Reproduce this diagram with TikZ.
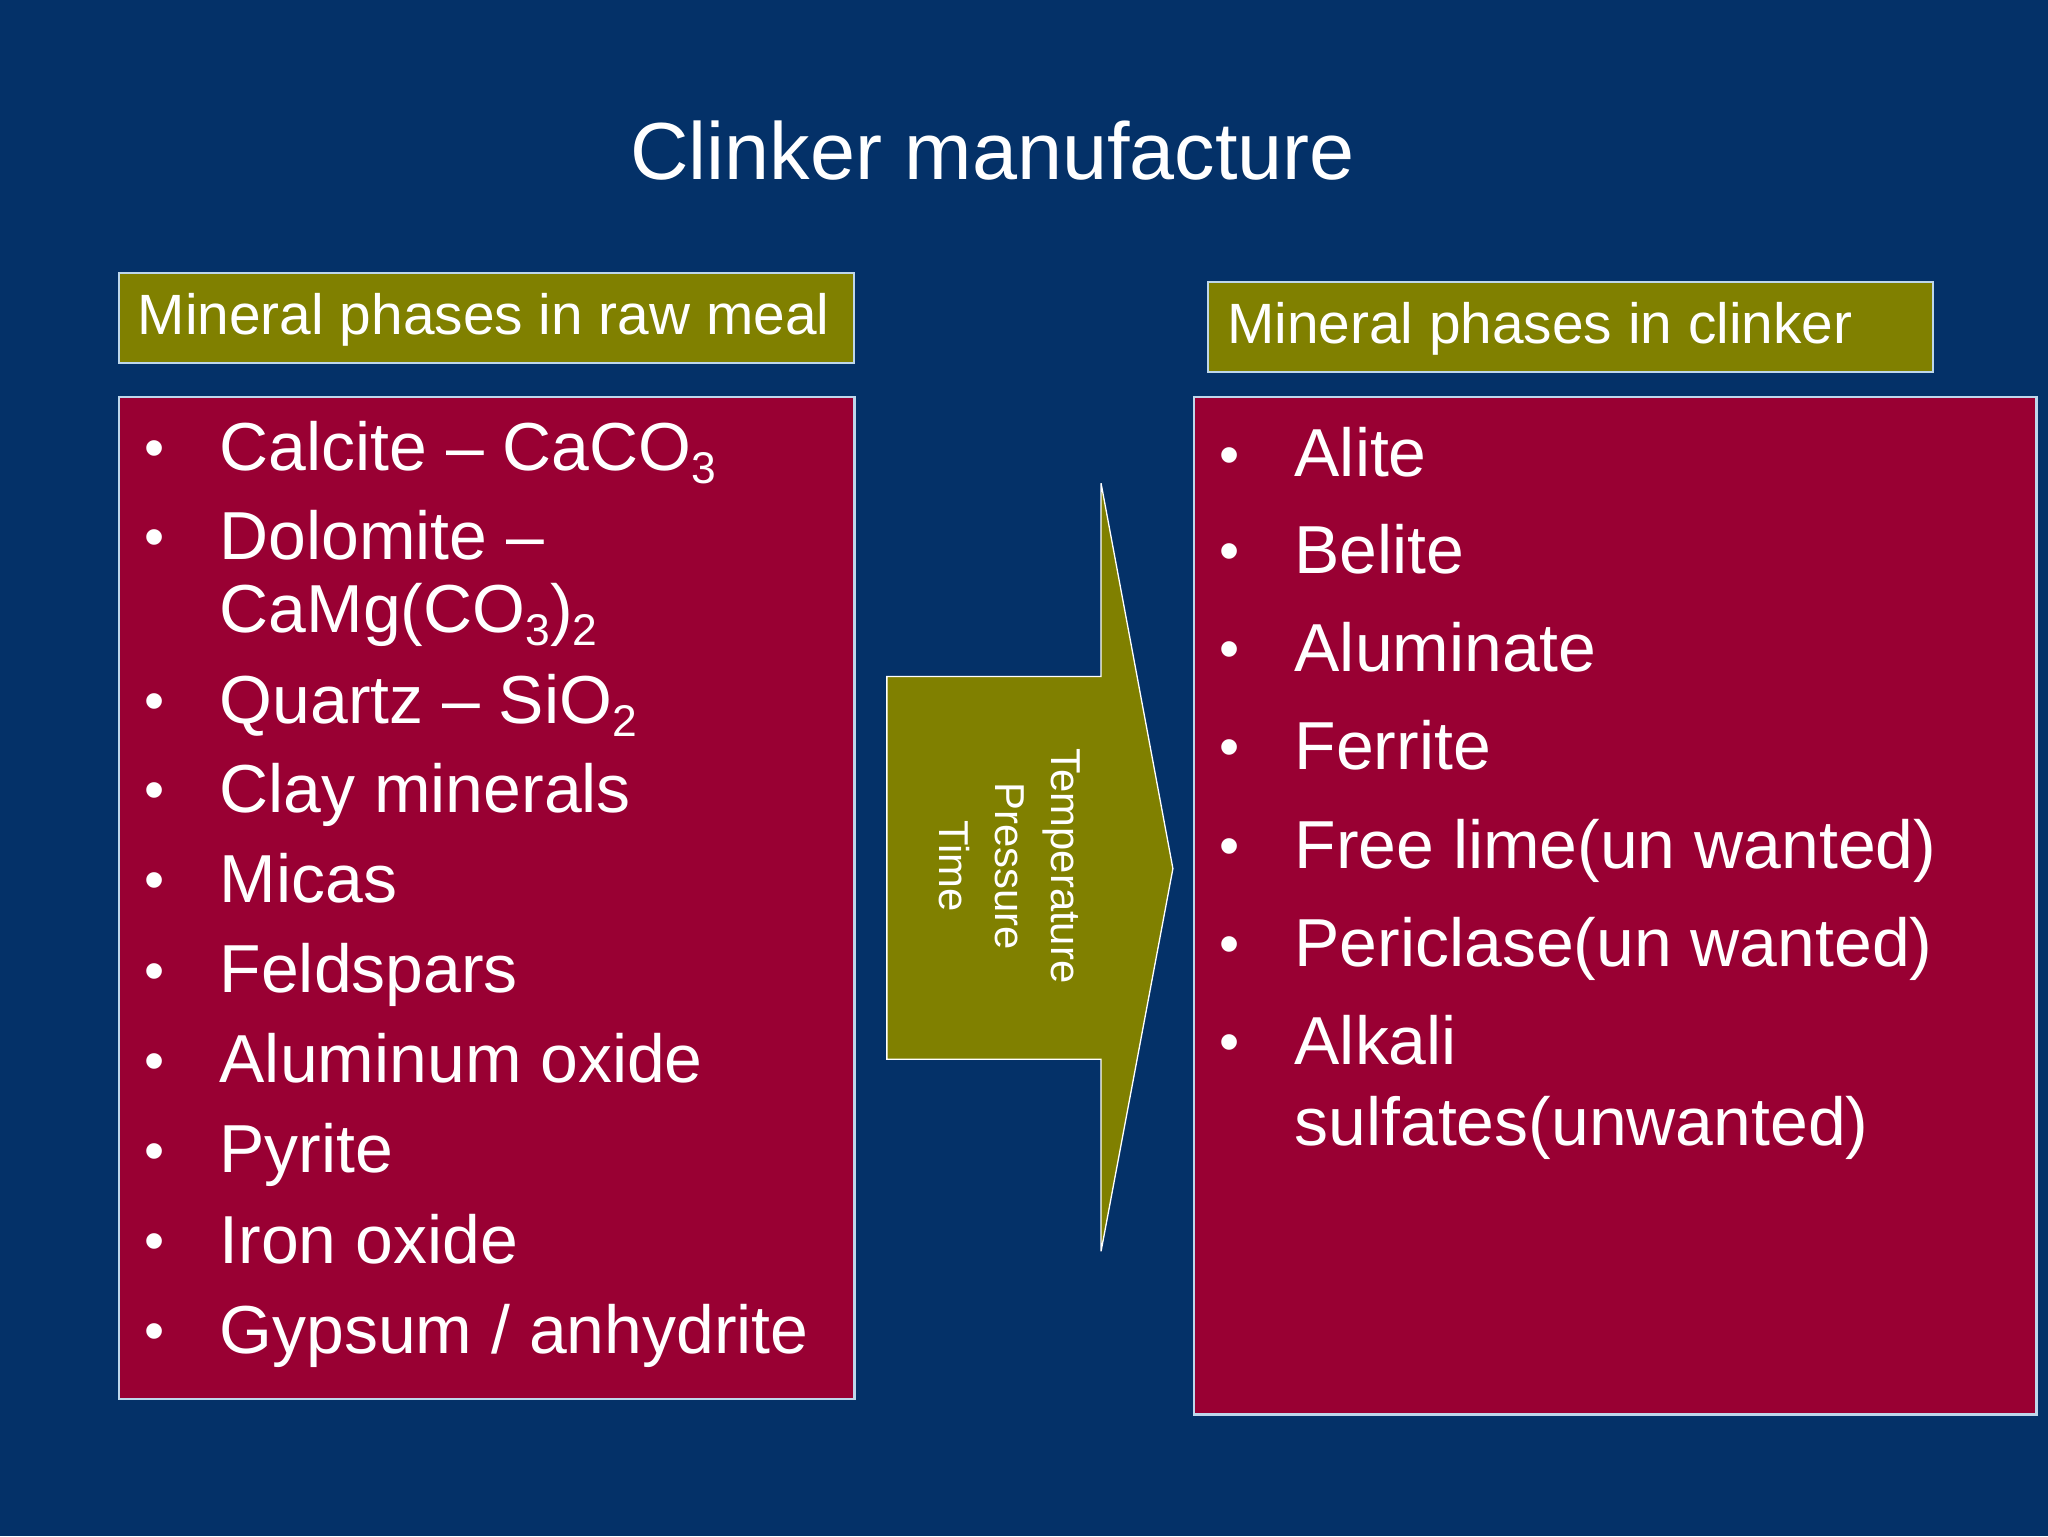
\documentclass[tikz,border=0pt]{standalone}
\usepackage{fontspec}
\setmainfont{Liberation Sans}
\definecolor{bg}{RGB}{4,49,104}
\definecolor{olive}{RGB}{128,128,0}
\definecolor{crim}{RGB}{153,0,51}
\definecolor{edge}{RGB}{190,215,235}
\newcommand{\sbs}[1]{\raisebox{-10pt}{\fontsize{34}{40}\selectfont #1}}
\begin{document}
\begin{tikzpicture}[x=1pt,y=-1pt,
  itm/.style={anchor=base west,text=white,inner sep=0,font=\fontsize{52}{60}\selectfont},
  bul/.style={anchor=base,text=white,inner sep=0,font=\fontsize{44}{50}\selectfont},
  hdr/.style={anchor=west,text=white,font=\fontsize{43.5}{48}\selectfont}]
\fill[bg] (0,0) rectangle (1568,1176);
\useasboundingbox (0,0) rectangle (1568,1176);
\node[text=white,font=\fontsize{62}{72}\selectfont] (title) at (760,115) {Clinker manufacture};
\draw[fill=olive,draw=edge,line width=1.5] (91,209) rectangle (654,278);
\node[hdr] (lh) at (102,245) {Mineral phases in raw meal};
\draw[fill=olive,draw=edge,line width=1.5] (925,216) rectangle (1480,285);
\node[hdr] (rh) at (936,252) {Mineral phases in clinker};
\draw[fill=crim,draw=edge,line width=2] (91,304) rectangle (654,1071);
\draw[fill=crim,draw=edge,line width=2] (914,304) rectangle (1559,1083);
\foreach \y/\t/\b in {342/{Calcite -- CaCO\sbs{3}}/1, 410/{Dolomite --}/1, 466/{CaMg(CO\sbs{3})\sbs{2}}/0, 536/{Quartz -- SiO\sbs{2}}/1, 604/{Clay minerals}/1, 673/{Micas}/1, 742/{Feldspars}/1, 811/{Aluminum oxide}/1, 880/{Pyrite}/1, 949/{Iron oxide}/1, 1018/{Gypsum / anhydrite}/1}{
  \node[itm] at (168,\y+18) {\t};
  \ifnum\b=1 \node[bul] at (118,\y+16) {•};\fi
}
\foreach \y/\t/\b in {347/{Alite}/1, 421/{Belite}/1, 496/{Aluminate}/1, 571/{Ferrite}/1, 647/{Free lime(un wanted)}/1, 722/{Periclase(un wanted)}/1, 797/{Alkali}/1, 859/{sulfates(unwanted)}/0}{
  \node[itm] at (991,\y+18) {\t};
  \ifnum\b=1 \node[bul] at (941,\y+16) {•};\fi
}
\draw[fill=olive,draw=white,line width=1] (679,518) -- (843,518) -- (843,370) -- (898,665) -- (843,958) -- (843,811) -- (679,811) -- cycle;
\node[rotate=-90,text=white,align=center,font=\fontsize{32}{43}\selectfont] (arr) at (773,663) {Temperature\\Pressure\\Time};
\end{tikzpicture}
\end{document}
